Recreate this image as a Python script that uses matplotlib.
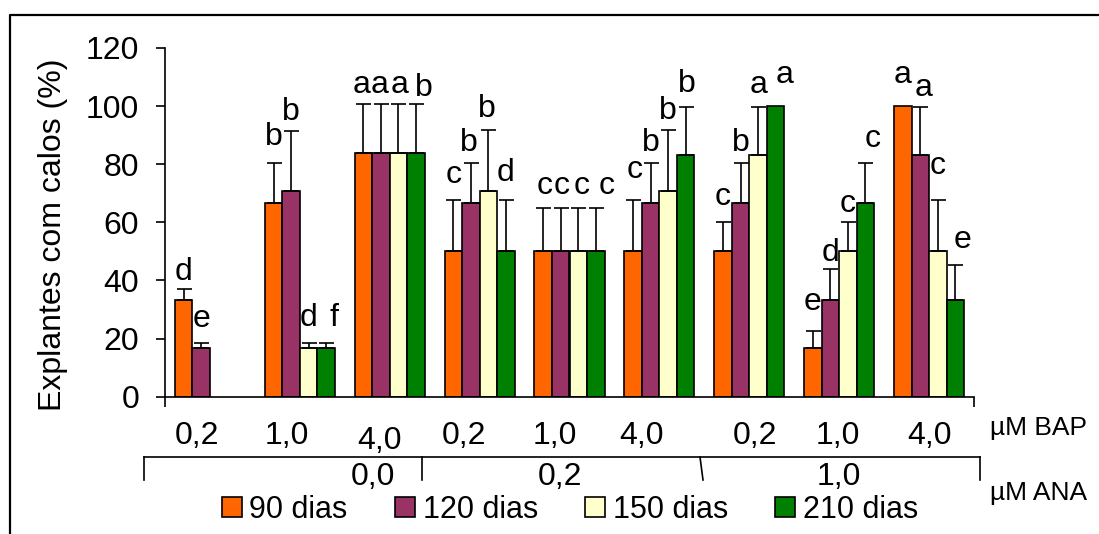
import matplotlib
matplotlib.use("Agg")
import matplotlib.pyplot as plt
from matplotlib.lines import Line2D
from matplotlib.patches import Patch
import numpy as np

plt.rcParams['font.family'] = ['Liberation Sans', 'DejaVu Sans']

# ---------------- data ----------------
series_names = ["90 dias", "120 dias", "150 dias", "210 dias"]
bap_labels = ["0,2", "1,0", "4,0", "0,2", "1,0", "4,0", "0,2", "1,0", "4,0"]
ana_labels = ["0,0", "0,2", "1,0"]

v90 = [33.3, 66.7, 84.0, 50, 50, 50, 50, 16.7, 100]
v120 = [16.7, 70.8, 84.0, 66.7, 50, 66.7, 66.7, 33.3, 83.3]
v150 = [0, 16.7, 84.0, 70.8, 50, 70.8, 83.3, 50, 50]
v210 = [0, 16.7, 84.0, 50, 50, 83.3, 100, 66.7, 33.3]

e90 = [3.9, 13.6, 16.8, 17.8, 15, 17.8, 10, 6, 0]
e120 = [1.8, 20.7, 16.8, 13.8, 15, 13.8, 13.8, 10.5, 16.3]
e150 = [0, 1.8, 16.8, 21, 15, 21, 16.3, 10, 17.8]
e210 = [0, 1.8, 16.8, 17.8, 15, 16.3, 0, 13.8, 11.9]

l90 = ["d", "b", "a", "c", "c", "c", "c", "e", "a"]
l120 = ["e", "b", "a", "b", "c", "b", "b", "d", "a"]
l150 = [None, "d", "a", "b", "c", "b", "a", "c", "c"]
l210 = [None, "f", "b", "d", "c", "b", "a", "c", "e"]

# ---------------- layout / style ----------------
W, H = 1099, 534
colors = ["#FF6600", "#993366", "#FFFFCC", "#008000"]
FS = 23

# label offsets in pixels (dx, gap above bar/error top)
ldx = [[0, 0, -2, 0, 1, 2, 0, 0, 0],
       [0, 0, -1, -2, 1, 0, 0, 0, 3],
       [0, 0, 1, -2, 3, 0, 1, 0, 0],
       [0, 8, 8, 0, 11, 1, 9, 7, 7]]
lgap = [[9, 18, 11, 17, 14, 22, 17, 21, 23],
        [16, 11, 11, 12, 14, 12, 12, 8, 11],
        [0, 17, 11, 13, 14, 11, 14, 10, 26],
        [0, 17, 8, 19, 14, 15, 23, 16, 17]]

fig = plt.figure(figsize=(W / 100, H / 100), dpi=100)
fig.patch.set_facecolor("white")

def fx(x):
    return x / W

def fy(y):
    return 1 - y / H

ax = fig.add_axes([fx(165), fy(396.7), fx(974) - fx(165), fy(47.9) - fy(396.7)])

vals = [v90, v120, v150, v210]
errs = [e90, e120, e150, e210]
labs = [l90, l120, l150, l210]
n = len(bap_labels)
x = np.arange(n)
bw = 0.195
offs = [-1.5, -0.5, 0.5, 1.5]

for s in range(4):
    xs = x + offs[s] * bw
    v = np.array(vals[s], dtype=float)
    e = np.array(errs[s], dtype=float)
    mask = v > 0
    ax.bar(xs[mask], v[mask], width=bw, color=colors[s], edgecolor="black",
           linewidth=1.2, zorder=2)
    em = mask & (e > 0)
    ax.errorbar(xs[em], v[em], yerr=[np.zeros(em.sum()), e[em]], fmt="none",
                ecolor="black", elinewidth=1.2, capsize=5.4, capthick=1.2, zorder=3)
    for i in range(n):
        if labs[s][i] is None:
            continue
        top = v[i] + e[i]
        ax.annotate(labs[s][i], xy=(xs[i], top),
                    xytext=(ldx[s][i] * 0.72, lgap[s][i] * 0.72),
                    textcoords="offset points", ha="center", va="baseline",
                    fontsize=FS, zorder=4)

ax.set_xlim(-0.5, n - 0.5)
ax.set_ylim(0, 120)
ax.set_yticks(np.arange(0, 121, 20))
ax.set_xticks([-0.5, n - 0.5])
ax.set_xticklabels([])
ax.tick_params(axis="y", direction="out", length=6.5, width=1.2, labelsize=FS, pad=12)
ax.tick_params(axis="x", direction="out", length=7.5, width=1.2)
for side in ["top", "right"]:
    ax.spines[side].set_visible(False)
for side in ["left", "bottom"]:
    ax.spines[side].set_linewidth(1.2)
ax.set_ylabel("Explantes com calos (%)", fontsize=FS)
ax.yaxis.set_label_coords((68 - 165) / (974 - 165), (396.7 - 235) / (396.7 - 47.9))

# BAP labels
bap_x = [197, 287, 379, 464, 555, 641, 755, 838, 930]
bap_y = [436, 436, 441, 436, 436, 436, 436, 436, 436]
for t, xx, yy in zip(bap_labels, bap_x, bap_y):
    fig.text(fx(xx), fy(yy), t, ha="center", va="center", fontsize=FS)

# ANA labels
ana_x = [373, 560, 839]
for t, xx in zip(ana_labels, ana_x):
    fig.text(fx(xx), fy(477), t, ha="center", va="center", fontsize=FS)

fig.text(fx(990), fy(428), "µM BAP", ha="left", va="center", fontsize=19)
fig.text(fx(990), fy(493), "µM ANA", ha="left", va="center", fontsize=19)

# bracket
lw = 1.2
fig.add_artist(Line2D([fx(144), fx(980)], [fy(457), fy(457)], color="black", lw=lw))
for xa, xb in [(144, 144), (422, 422), (700, 703), (980, 980)]:
    fig.add_artist(Line2D([fx(xa), fx(xb)], [fy(457), fy(480)], color="black", lw=lw))

# chart-area border (left and top)
fig.add_artist(Line2D([fx(10), fx(10), 1.0], [0.0, fy(15), fy(15)], color="black", lw=1.6))

# legend
handles = [Patch(facecolor=c, edgecolor="black", linewidth=1.2) for c in colors]
fig.legend(handles, series_names, loc="center", bbox_to_anchor=(fx(570), fy(510)),
           ncol=4, frameon=False, fontsize=22, handlelength=0.65, handleheight=0.65,
           handletextpad=0.25, columnspacing=1.55, borderpad=0, borderaxespad=0)

fig.savefig("out.png", dpi=100, facecolor="white")
